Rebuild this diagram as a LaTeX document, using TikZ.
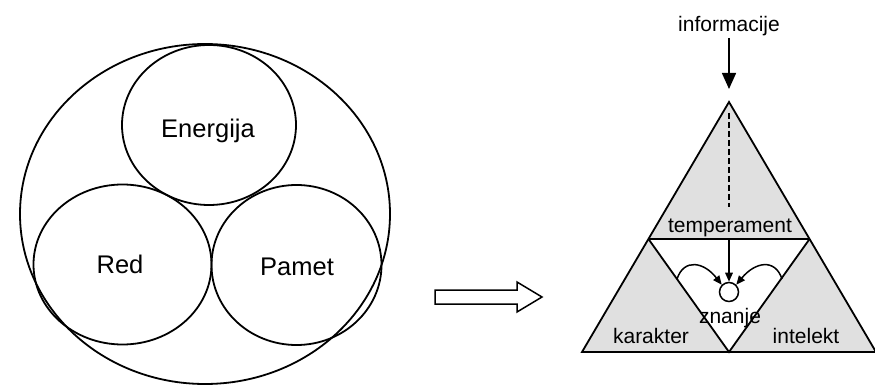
\documentclass[tikz,border=0pt]{standalone}
\usepackage{fontspec}
\setmainfont{Liberation Sans}
\usetikzlibrary{arrows.meta,calc}
\definecolor{trigray}{HTML}{E0E0E0}
\begin{document}
\begin{tikzpicture}[x=1pt,y=-1pt,
  line width=1.8pt,
  bigtxt/.style={font=\fontsize{25.5}{28}\selectfont, inner sep=0pt, anchor=base},
  smalltxt/.style={font=\fontsize{21}{24}\selectfont, inner sep=0pt, anchor=base},
  thin/.style={line width=1.5pt},
  tip/.style={-{Triangle[length=9pt,width=7.5pt]}}]
\useasboundingbox (0,0) rectangle (875,387);

% --- left: three circles inside the big one
\draw (205,214) ellipse [x radius=185, y radius=170];
\draw (209,125) ellipse [x radius=87, y radius=80];
\draw (122.5,264.5) ellipse [x radius=89, y radius=80];
\draw (296.5,265) ellipse [x radius=85, y radius=80];
\node[bigtxt] (en) at (208,138) {Energija};
\node[bigtxt] (rd) at (120,273) {Red};
\node[bigtxt] (pm) at (297,276) {Pamet};

% --- hollow block arrow
\draw[thin, line join=miter]
  (435,290) -- (517,290) -- (517,282) -- (542,297) -- (517,312)
  -- (517,304) -- (435,304) -- cycle;

% --- right: the triangle
\coordinate (apex) at (729,102);
\coordinate (bl) at (582,352);
\coordinate (br) at (876,352);
\coordinate (ml) at ($(apex)!0.548!(bl)$);
\coordinate (mr) at ($(apex)!0.548!(br)$);
\coordinate (bm) at (729,352);

\fill[trigray] (apex) -- (ml) -- (mr) -- cycle;
\fill[trigray] (ml) -- (bl) -- (bm) -- cycle;
\fill[trigray] (mr) -- (br) -- (bm) -- cycle;
\draw[line join=miter] (apex) -- (bl) -- (br) -- cycle;
\draw (ml) -- (mr);
\draw (ml) -- (bm) -- (mr);

\node[smalltxt] (info) at (729,32) {informacije};
\node[smalltxt] (temp) at (730,233) {temperament};
\node[smalltxt] (zn) at (730,323) {znanje};
\node[smalltxt] (kar) at (651,343) {karakter};
\node[smalltxt] (int) at (806,343) {intelekt};

\node[draw, circle, minimum size=19pt, inner sep=0pt, thin, fill=white] (k) at (729,292) {};

% incoming information
\draw[thin, -{Triangle[length=16pt,width=14pt]}] (729,38) -- (729,89);
\draw[thin, dash pattern=on 6pt off 3pt] (729,113) -- (729,207);
\coordinate (mtop) at (729,240);
\draw[thin, tip] (mtop) -- (k.north);

% side arrows towards knowledge
\coordinate (ls) at (677,279);
\coordinate (rs) at (782,279);
\draw[thin, tip]
  (ls) .. controls (684,258) and (704,262) .. (k.north west);
\draw[thin, tip]
  (rs) .. controls (775,258) and (755,262) .. (k.north east);
\end{tikzpicture}
\end{document}
